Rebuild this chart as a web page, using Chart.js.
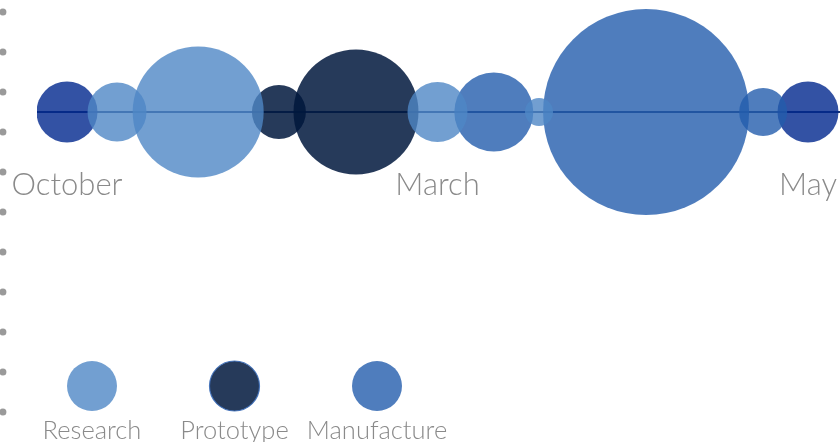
<!DOCTYPE html>
<html>
<head>
<meta charset="utf-8">
<script src="https://cdn.jsdelivr.net/npm/chart.js@4/dist/chart.umd.min.js"></script>
<style>
  html, body { margin: 0; padding: 0; background: #fff; }
  .graph-container { width: 840px; height: 442px; }
</style>
</head>
<body>
<div class="graph-container"><canvas id="chart"></canvas></div>
<script>
// x runs in tenths of a label step: 0 = October, 10 = March, 20 = May
const monthTicks = [0, 10, 20];
const monthLabels = ['October', 'March', 'May'];

// bubble positions (x) and sizes (r, px)
const milestoneX = [0, 20];
const milestoneR = [30.5, 30.5];
const researchX = [1.35, 3.54, 10.0, 12.74];
const researchR = [29.5, 65.5, 30, 14];
const prototypeX = [5.72, 7.8];
const prototypeR = [27, 62.5];
const manufactureX = [11.52, 15.63, 18.79];
const manufactureR = [39.5, 103, 24];

const trackY = 7.5;  // every bubble sits on this line
const labelY = 6.14; // month names hang from here
const railY = [10, 9, 8, 7, 6, 5, 4, 3, 2, 1, 0];
const railX = -1.73;

// the chart area begins at the first bubble's left edge, so the track does too
const xMin = -0.81;
const xMax = 20.864;

const toPoints = (xs, rs) => xs.map((x, i) => ({ x: x, y: trackY, r: rs[i] }));

const textGrey = '#8a8a8a';
const lineColor = 'rgb(28, 56, 115)';

// draws the legend as circles with the name underneath
const bottomLegend = {
  id: 'bottomLegend',
  afterDraw(chart) {
    const ctx = chart.ctx;
    const items = chart.data.datasets.filter(d => d.inLegend);
    ctx.save();
    items.forEach((d, i) => {
      const cx = 92 + i * 142.5;
      ctx.beginPath();
      ctx.arc(cx, 386, 25, 0, Math.PI * 2);
      ctx.fillStyle = d.backgroundColor;
      ctx.fill();
      if (d.legendRing) {
        ctx.lineWidth = 1.2;
        ctx.strokeStyle = d.legendRing;
        ctx.stroke();
      }
      ctx.fillStyle = textGrey;
      ctx.font = '300 25.5px Lato';
      ctx.textAlign = 'center';
      ctx.textBaseline = 'middle';
      ctx.fillText(d.label, cx, 431);
    });
    ctx.restore();
  }
};

const ctx = document.getElementById('chart').getContext('2d');

new Chart(ctx, {
  type: 'bubble',
  data: {
    datasets: [
      {
        label: 'Milestone',
        order: 3,
        data: toPoints(milestoneX, milestoneR),
        backgroundColor: 'rgba(0, 39, 141, 0.8)',
        borderWidth: 0
      },
      {
        label: 'Research',
        order: 0, // lowest order is drawn on top
        inLegend: true,
        data: toPoints(researchX, researchR),
        backgroundColor: 'rgba(79, 135, 198, 0.8)',
        borderWidth: 0
      },
      {
        label: 'Prototype',
        order: 2,
        inLegend: true,
        legendRing: 'rgba(60, 110, 185, 0.9)',
        data: toPoints(prototypeX, prototypeR),
        backgroundColor: 'rgba(0, 23, 61, 0.85)',
        borderWidth: 0
      },
      {
        label: 'Manufacture',
        order: 1,
        inLegend: true,
        data: toPoints(manufactureX, manufactureR),
        backgroundColor: 'rgba(35, 92, 172, 0.8)',
        borderWidth: 0
      },
      {
        label: 'rail',
        order: 4,
        data: railY.map(y => ({ x: railX, y: y, r: 3.5 })),
        backgroundColor: '#9a9a9a',
        borderWidth: 0,
        // points left of the chart area are skipped unless their
        // (hover) size reaches back into it
        hoverRadius: 40,
        clip: false
      }
    ]
  },
  options: {
    responsive: true,
    maintainAspectRatio: false,
    animation: false,
    events: [],
    layout: { padding: { left: 37, right: 0, top: 0, bottom: 0 }, autoPadding: false },
    plugins: {
      legend: { display: false },
      tooltip: { enabled: false }
    },
    scales: {
      x: {
        type: 'linear',
        min: xMin,
        max: xMax,
        position: { y: labelY },
        grid: { display: false, drawTicks: false },
        border: { display: false },
        // blank ticks at both ends keep the axis from padding the chart area
        afterBuildTicks: scale => {
          scale.ticks = [xMin].concat(monthTicks, [xMax]).map(v => ({ value: v }));
        },
        ticks: {
          autoSkip: false,
          maxRotation: 0,
          padding: 0,
          color: textGrey,
          font: { family: 'Lato', weight: 300, size: 31 },
          callback: value => {
            const i = monthTicks.indexOf(value);
            return i < 0 ? '' : monthLabels[i];
          }
        }
      },
      y: {
        min: -0.75,
        max: 10.3,
        // the only grid line is the track the bubbles sit on
        afterBuildTicks: scale => {
          scale.ticks = [{ value: trackY }];
        },
        grid: { color: lineColor, lineWidth: 2, drawTicks: false },
        border: { display: false },
        ticks: { display: false }
      }
    }
  },
  plugins: [bottomLegend]
});
</script>
</body>
</html>
